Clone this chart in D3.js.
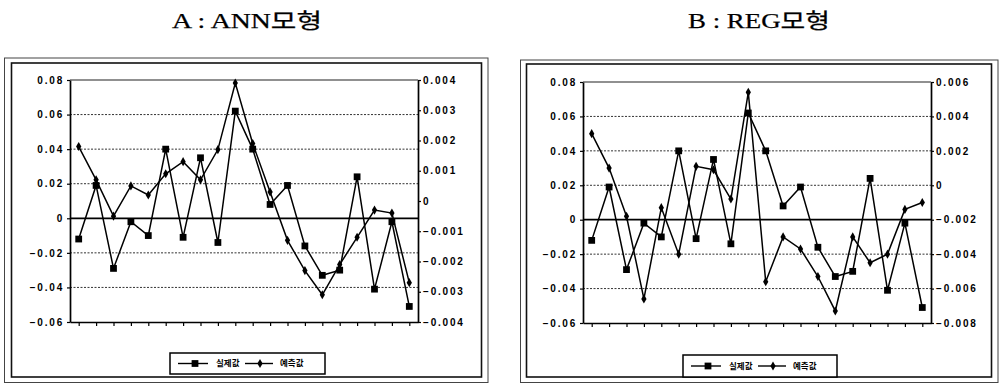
<!DOCTYPE html>
<html>
<head>
<meta charset="utf-8">
<script src="https://cdn.jsdelivr.net/npm/d3@7"></script>
<style>
  body { margin: 0; background: #fff; }
  svg { display: block; }
  .axis-label { font-family: "Liberation Sans", Arial, sans-serif; font-weight: bold; font-size: 10px; letter-spacing: 1.8px; fill: #000; }
  .title { font-family: "Liberation Serif", "Noto Sans CJK KR", serif; font-size: 21px; fill: #000; stroke: #000; stroke-width: 0.25px; }
  .legend-text { font-family: "Noto Sans CJK KR", sans-serif; font-weight: bold; font-size: 8.5px; fill: #000; }
</style>
</head>
<body>
<svg id="chart" width="1001" height="385"></svg>
<script>
// 20 periods, no labels on the x axis
const periods = ["1","2","3","4","5","6","7","8","9","10","11","12","13","14","15","16","17","18","19","20"];

// 실제값 (left axis), same in both panels
const actual = [-0.012, 0.019, -0.029, -0.002, -0.010, 0.040, -0.011, 0.035, -0.014, 0.062,
                0.040, 0.008, 0.019, -0.016, -0.033, -0.030, 0.024, -0.041, -0.002, -0.051];

// 예측값 (right axis)
const predANN = [0.0018, 0.0007, -0.0005, 0.0005, 0.0002, 0.0009, 0.0013, 0.0007, 0.0017, 0.0039,
                 0.0019, 0.0003, -0.0013, -0.0023, -0.0031, -0.0021, -0.0012, -0.0003, -0.0004, -0.0027];
const predREG = [0.0030, 0.0010, -0.0018, -0.0066, -0.0013, -0.0040, 0.0011, 0.0009, -0.0008, 0.0054,
                 -0.0056, -0.0030, -0.0037, -0.0053, -0.0073, -0.0030, -0.0045, -0.0040, -0.0014, -0.0010];

const leftTicks = [0.08, 0.06, 0.04, 0.02, 0, -0.02, -0.04, -0.06];
const rightTicksANN = [0.004, 0.003, 0.002, 0.001, 0, -0.001, -0.002, -0.003, -0.004];
const rightTicksREG = [0.006, 0.004, 0.002, 0, -0.002, -0.004, -0.006, -0.008];

const titles = ["A : ANN모형", "B : REG모형"];
const legendLabels = ["실제값", "예측값"];

const panels = [
  { title: titles[0], titleX: 247, titleW: 150, pred: predANN, rTicks: rightTicksANN,
    outer: [4.5, 58, 488, 382.5], inner: [11.5, 63, 481.5, 377],
    plot: { left: 70, right: 418, top: 80, bottom: 322 }, legend: [170, 353, 155, 21] },
  { title: titles[1], titleX: 759, titleW: 142, pred: predREG, rTicks: rightTicksREG,
    outer: [520.5, 60, 998, 382.5], inner: [526.5, 64, 991.5, 377],
    plot: { left: 583, right: 931, top: 82, bottom: 323 }, legend: [683, 355, 154, 22] }
];

const svg = d3.select("#chart");
const fmt = p => d => d === 0 ? "0" : d3.format("." + p + "f")(d);
const square = d3.symbol().type(d3.symbolSquare).size(46);
const diamond = d3.symbol().type(d3.symbolDiamond).size(24);

panels.forEach(p => {
  const g = svg.append("g");
  const { left, right, top, bottom } = p.plot;

  g.append("text")
    .attr("class", "title")
    .attr("x", p.titleX - p.titleW / 2)
    .attr("y", 28)
    .attr("textLength", p.titleW)
    .attr("lengthAdjust", "spacingAndGlyphs")
    .text(p.title);

  // double frame
  g.append("rect")
    .attr("x", p.outer[0]).attr("y", p.outer[1])
    .attr("width", p.outer[2] - p.outer[0]).attr("height", p.outer[3] - p.outer[1])
    .attr("fill", "none").attr("stroke", "#444").attr("stroke-width", 1);
  g.append("rect")
    .attr("x", p.inner[0]).attr("y", p.inner[1])
    .attr("width", p.inner[2] - p.inner[0]).attr("height", p.inner[3] - p.inner[1])
    .attr("fill", "none").attr("stroke", "#111").attr("stroke-width", 1.6);

  const x = d3.scalePoint().domain(periods).range([left, right]).padding(0.5);
  const yL = d3.scaleLinear().domain([-0.06, 0.08]).range([bottom, top]);
  const yR = d3.scaleLinear().domain(d3.extent(p.rTicks)).range([bottom, top]);

  // gridlines
  g.selectAll(".grid")
    .data(leftTicks.filter(t => t !== 0 && t !== -0.06))
    .join("line")
      .attr("x1", left).attr("x2", right)
      .attr("y1", d => yL(d)).attr("y2", d => yL(d))
      .attr("stroke", d => d === 0.08 ? "#222" : "#333")
      .attr("stroke-width", d => d === 0.08 ? 1.2 : 1)
      .attr("stroke-dasharray", d => d === 0.08 ? null : "2,1.5");

  // zero line
  g.append("line")
    .attr("x1", left).attr("x2", right)
    .attr("y1", yL(0)).attr("y2", yL(0))
    .attr("stroke", "#000").attr("stroke-width", 1.7);

  // axes
  const axL = g.append("g")
    .attr("transform", `translate(${left},0)`)
    .call(d3.axisLeft(yL).tickValues(leftTicks).tickFormat(fmt(2)).tickSize(3).tickSizeOuter(0));
  const axR = g.append("g")
    .attr("transform", `translate(${right},0)`)
    .call(d3.axisRight(yR).tickValues(p.rTicks).tickFormat(fmt(3)).tickSize(3).tickSizeOuter(0));
  const axB = g.append("g")
    .attr("transform", `translate(0,${bottom})`)
    .call(d3.axisBottom(x).tickSize(4).tickSizeOuter(0).tickFormat(""));

  [axL, axR, axB].forEach(ax => {
    ax.select(".domain").attr("stroke", "#000").attr("stroke-width", 1.7);
    ax.selectAll(".tick line").attr("stroke", "#000").attr("stroke-width", 1.2);
    ax.selectAll(".tick text").attr("class", "axis-label").attr("font-size", null).attr("font-family", null);
  });
  axL.selectAll(".tick text").attr("x", -6);
  axR.selectAll(".tick text").attr("x", 5);

  // series
  const lineL = d3.line().x((d, i) => x(periods[i])).y(d => yL(d));
  const lineR = d3.line().x((d, i) => x(periods[i])).y(d => yR(d));

  g.append("path").attr("d", lineR(p.pred))
    .attr("fill", "none").attr("stroke", "#000").attr("stroke-width", 1.5);
  g.append("path").attr("d", lineL(actual))
    .attr("fill", "none").attr("stroke", "#000").attr("stroke-width", 1.5);

  g.selectAll(".pt-pred").data(p.pred).join("path")
    .attr("d", diamond)
    .attr("transform", (d, i) => `translate(${x(periods[i])},${yR(d)})`)
    .attr("fill", "#000");
  g.selectAll(".pt-act").data(actual).join("path")
    .attr("d", square)
    .attr("transform", (d, i) => `translate(${x(periods[i])},${yL(d)})`)
    .attr("fill", "#000");

  // legend
  const [lx, ly, lw, lh] = p.legend;
  const lg = g.append("g").attr("transform", `translate(${lx},${ly})`);
  lg.append("rect").attr("width", lw).attr("height", lh)
    .attr("fill", "#fff").attr("stroke", "#000").attr("stroke-width", 1.5);
  const items = [
    { label: legendLabels[0], x1: 8, x2: 38, m: 25, tx: 46, sym: square },
    { label: legendLabels[1], x1: 75, x2: 103, m: 90, tx: 110, sym: diamond }
  ];
  items.forEach(it => {
    lg.append("line").attr("x1", it.x1).attr("x2", it.x2)
      .attr("y1", lh / 2).attr("y2", lh / 2)
      .attr("stroke", "#000").attr("stroke-width", 1.4);
    lg.append("path").attr("d", it.sym)
      .attr("transform", `translate(${it.m},${lh / 2})`).attr("fill", "#000");
    lg.append("text").attr("class", "legend-text")
      .attr("x", it.tx).attr("y", lh / 2).attr("dy", "0.35em")
      .text(it.label);
  });
});
</script>
</body>
</html>
